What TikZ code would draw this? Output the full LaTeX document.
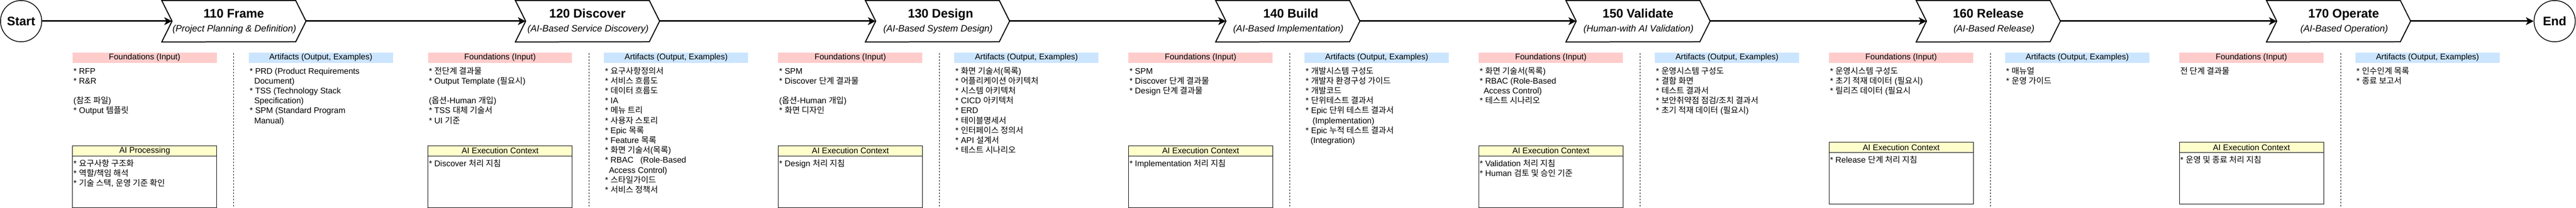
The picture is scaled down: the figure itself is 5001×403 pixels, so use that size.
\documentclass[tikz,border=0pt]{standalone}
\usepackage{fontspec}
\setmainfont{Liberation Sans}
\newfontfamily\krfont{Noto Sans CJK KR}
\newcommand{\K}[1]{{\krfont #1}}
\usetikzlibrary{arrows.meta,calc}
\definecolor{inpink}{HTML}{FFCCCC}
\definecolor{outblue}{HTML}{CCE5FF}
\definecolor{aiyellow}{HTML}{FFFFCC}
\newcommand{\bodyfont}{\fontsize{16}{19.2}\selectfont\lineskiplimit=-30pt\relax}
\tikzset{
  body/.style={font=\bodyfont},
  listtext/.style={body,anchor=north west,inner sep=0pt,align=left},
  headcell/.style={body,anchor=north west,minimum width=280pt,minimum height=20pt,inner sep=0pt},
  foundhead/.style={headcell,fill=inpink},
  arthead/.style={headcell,fill=outblue},
  aihead/.style={headcell,fill=aiyellow,draw=black,line width=0.9pt},
  aibody/.style={anchor=north west,minimum width=280pt,minimum height=100pt,inner sep=0pt,draw=black,line width=0.9pt},
  terminal/.style={circle,draw=black,line width=1.5pt,minimum size=80pt,inner sep=0pt,font=\fontsize{24}{28}\selectfont\bfseries},
  stagebox/.style={minimum width=280pt,minimum height=80pt,inner sep=0pt},
  stageline/.style={draw=black,line width=2pt,line join=miter},
  stagetitle/.style={anchor=base,inner sep=0pt,font=\fontsize{24}{28}\selectfont\bfseries},
  stagesub/.style={anchor=base,inner sep=0pt,font=\fontsize{18}{22}\selectfont\itshape},
  flow/.style={draw=black,line width=3pt,-{Stealth[length=15pt,width=15pt,inset=4pt]}},
  divider/.style={draw=black,line width=0.9pt,dash pattern=on 3pt off 3pt},
}
% id, left x, title, subtitle, title dx, subtitle dx
\newcommand{\stage}[6]{%
  \node[stagebox,anchor=north west] (s#1) at (#2,1) {};
  \coordinate (in#1) at (#2+20,41);
  \coordinate (out#1) at (#2+280,41);
  \draw[stageline] (s#1.north west) -- (#2+260,1) -- (out#1)
     -- (#2+260,81) -- (s#1.south west) -- (in#1) -- cycle;
  \node[stagetitle] (st#1) at (#2+140+#5,34.6) {#3};
  \node[stagesub] (ss#1) at (#2+141+#6,61.8) {#4};
}
% id, left x, ai top y, ai title, found text, artifact text, ai text
\newcommand{\lane}[7]{%
  \node[foundhead] (fh#1) at (#2,101.5) {Foundations (Input)};
  \node[listtext] (ft#1) at (#2+2,129.5) {\strut #5};
  \coordinate (dt#1) at (#2+313.5,103);
  \coordinate (db#1) at (#2+313.5,402);
  \draw[divider] (dt#1) -- (db#1);
  \node[arthead] (ah#1) at (#2+342,101.5) {Artifacts (Output, Examples)};
  \node[listtext] (at#1) at (#2+344,129.5) {\strut #6};
  \node[aibody] (ab#1) at (#2,#3+20) {};
  \node[aihead] (ap#1) at (#2,#3) {#4};
  \node[listtext] (ai#1) at (#2+2,#3+27.1) {\strut #7};
}
\newcommand{\ind}[1]{\mbox{}\hspace*{#1pt}}
\begin{document}
\begin{tikzpicture}[x=1pt,y=-1pt]
\path[use as bounding box,fill=white] (0,0) rectangle (5001,403);

\node[terminal] (start) at (41,41) {Start};
\node[terminal] (end) at (4959.5,41) {End};

\stage{110}{314}{110 Frame}{(Project Planning \& Definition)}{0}{0}
\stage{120}{1000.5}{120 Discover}{(AI-Based Service Discovery)}{0}{0}
\stage{130}{1680}{130 Design}{(AI-Based System Design)}{6}{0}
\stage{140}{2360}{140 Build}{(AI-Based Implementation)}{6}{0}
\stage{150}{3040}{150 Validate}{(Human-with AI Validation)}{0}{0}
\stage{160}{3720}{160 Release}{(AI-Based Release)}{0}{10}
\stage{170}{4400}{170 Operate}{(AI-Based Operation)}{10}{10}

\draw[flow] (start) -- (in110);
\draw[flow] (out110) -- (in120);
\draw[flow] (out120) -- (in130);
\draw[flow] (out130) -- (in140);
\draw[flow] (out140) -- (in150);
\draw[flow] (out150) -- (in160);
\draw[flow] (out160) -- (in170);
\draw[flow] (out170) -- (end);

\lane{110}{140.5}{281.7}{AI Processing}
 {* RFP\\{}* R\&R\\\mbox{}\\(\K{참조 파일})\\{}* Output \K{템플릿}}
 {* PRD (Product Requirements\\\ind{8.9}Document)\\{}* TSS (Technology Stack\\\ind{8.9}Specification)\\{}* SPM (Standard Program\\\ind{8.9}Manual)}
 {* \K{요구사항 구조화}\\{}* \K{역할}/\K{책임 해석}\\{}* \K{기술 스택}, \K{운영 기준 확인}}

\lane{120}{830.5}{281.7}{AI Execution Context}
 {* \K{전단계 결과물}\\{}* Output Template (\K{필요시})\\\mbox{}\\(\K{옵션}-Human \K{개입})\\{}* TSS \K{대체 기술서}\\{}* UI \K{기준}}
 {* \K{요구사항정의서}\\{}* \K{서비스 흐름도}\\{}* \K{데이터 흐름도}\\{}* IA\\{}* \K{메뉴 트리}\\{}* \K{사용자 스토리}\\{}* Epic \K{목록}\\{}* Feature \K{목록}\\{}* \K{화면 기술서}(\K{목록})\\{}* RBAC \hspace*{8.9pt}(Role-Based\\\ind{7.6}Access Control)\\{}* \K{스타일가이드}\\{}* \K{서비스 정책서}}
 {* Discover \K{처리 지침}}

\lane{130}{1510.5}{281.7}{AI Execution Context}
 {* SPM\\{}* Discover \K{단계 결과물}\\\mbox{}\\(\K{옵션}-Human \K{개입})\\{}* \K{화면 디자인}}
 {* \K{화면 기술서}(\K{목록})\\{}* \K{어플리케이션 아키텍처}\\{}* \K{시스템 아키텍처}\\{}* CICD \K{아키텍처}\\{}* ERD\\{}* \K{테이블명세서}\\{}* \K{인터페이스 정의서}\\{}* API \K{설계서}\\{}* \K{테스트 시나리오}}
 {* Design \K{처리 지침}}

\lane{140}{2190.5}{281.7}{AI Execution Context}
 {* SPM\\{}* Discover \K{단계 결과물}\\{}* Design \K{단계 결과물}}
 {* \K{개발시스템 구성도}\\{}* \K{개발자 환경구성 가이드}\\{}* \K{개발코드}\\{}* \K{단위테스트 결과서}\\{}* Epic \K{단위 테스트 결과서}\\\ind{13.4}(Implementation)\\{}* Epic \K{누적 테스트 결과서}\\\ind{9.6}(Integration)}
 {* Implementation \K{처리 지침}}

\lane{150}{2870.5}{281.7}{AI Execution Context}
 {* \K{화면 기술서}(\K{목록})\\{}* RBAC (Role-Based\\\ind{7.6}Access Control)\\{}* \K{테스트 시나리오}}
 {* \K{운영시스템 구성도}\\{}* \K{결함 화면}\\{}* \K{테스트 결과서}\\{}* \K{보안취약점 점검}/\K{조치 결과서}\\{}* \K{초기 적재 데이터} (\K{필요시})}
 {* Validation \K{처리 지침}\\{}* Human \K{검토 및 승인 기준}}

\lane{160}{3550.5}{275.3}{AI Execution Context}
 {* \K{운영시스템 구성도}\\{}* \K{초기 적재 데이터} (\K{필요시})\\{}* \K{릴리즈 데이터} (\K{필요시}}
 {* \K{매뉴얼}\\{}* \K{운영 가이드}}
 {* Release \K{단계 처리 지침}}

\lane{170}{4230.5}{275.3}{AI Execution Context}
 {\K{전 단계 결과물}}
 {* \K{인수인계 목록}\\{}* \K{종료 보고서}}
 {* \K{운영 및 종료 처리 지침}}
\end{tikzpicture}
\end{document}
